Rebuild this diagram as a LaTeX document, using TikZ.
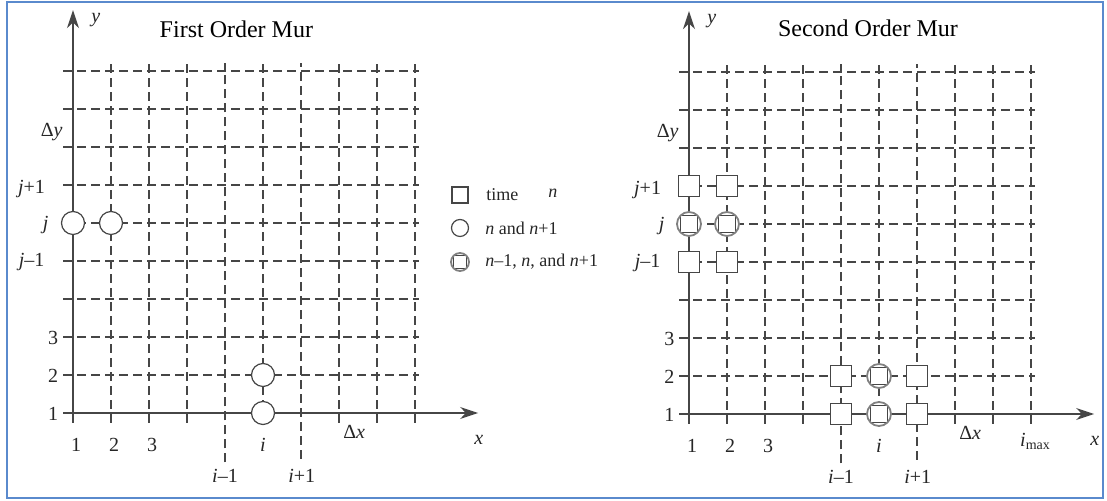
\documentclass[tikz,border=0pt]{standalone}
\usepackage{fontspec}
\setmainfont{Liberation Serif}
\usetikzlibrary{arrows.meta,calc}

\definecolor{murgray}{RGB}{70,70,70}
\definecolor{murblue}{RGB}{90,138,205}

\tikzset{
  gridline/.style={dash pattern=on 4.5pt off 2.5pt, murgray, line width=0.55pt},
  axisline/.style={murgray, line width=0.7pt, -{Stealth[length=9pt,width=6pt]}},
  lab/.style={text=black!85, font=\fontsize{10}{12}\selectfont, inner sep=0pt},
  title/.style={text=black, font=\fontsize{12}{14}\selectfont, inner sep=0pt},
  legtext/.style={text=black!85, font=\fontsize{9}{11}\selectfont, inner sep=0pt, anchor=west},
  cpt/.style={circle, draw=murgray, fill=white, minimum size=11.5pt, inner sep=0pt, line width=0.6pt},
  spt/.style={rectangle, draw=murgray, fill=white, minimum size=10.5pt, inner sep=0pt, line width=0.6pt},
  cspt/.style={circle, draw=gray, fill=white, minimum size=12pt, inner sep=0pt, line width=0.9pt,
    path picture={\draw[murgray, line width=0.5pt]
      ($(path picture bounding box.center)!0.7!(path picture bounding box.south west)$) rectangle
      ($(path picture bounding box.center)!0.7!(path picture bounding box.north east)$);}},
}

% grille d'un panneau (unite = une maille)
\newcommand{\murgrid}{%
  % Grille
  \foreach \j in {2,...,10}
    \draw[gridline] (0.74,\j) -- (10.1,\j);
  \foreach \i in {2,3,4,6,8,9,10}
    \draw[gridline] (\i,0.74) -- (\i,10.2);
  \draw[gridline] (5,-0.3) -- (5,10.2);
  \draw[gridline] (7,-0.2) -- (7,10.2);
  % Axes
  \draw[axisline] (0.74,1) -- (11.66,1);
  \draw[axisline] (1,0.74) -- (1,11.6);
  \node[lab] (xlab) at (11.68,0.29) {\textit{x}};
  \node[lab] (ylab) at (1.6,11.34) {\textit{y}};
  % Graduations
  \node[lab] (dy) at (0.44,8.39) {Δ\textit{y}};
  \node[lab] (jp) at (-0.09,6.89) {\textit{j}+1};
  \node[lab] (jj) at (0.28,5.96) {\textit{j}};
  \node[lab] (jm) at (-0.09,4.97) {\textit{j}–1};
  \foreach \k in {1,2,3} {
    \node[lab] (left\k) at (0.48,\k-0.03) {\k};
    \node[lab] (bot\k) at (\k+0.08,0.15) {\k};
  }
  \node[lab] (ii) at (6,0.16) {\textit{i}};
  \node[lab] (dx) at (8.4,0.5) {Δ\textit{x}};
  \node[lab] (im) at (5,-0.65) {\textit{i}–1};
  \node[lab] (ip) at (7.02,-0.66) {\textit{i}+1};
}

\begin{document}
\begin{tikzpicture}

\useasboundingbox (0pt,0pt) rectangle (553.5pt,250.5pt);

% Cadre
\draw[murblue, line width=1.2pt] (3.5pt,1.5pt) rectangle (551.5pt,249.5pt);

% Premier ordre
\begin{scope}[shift={(17.5pt,25pt)}, x=19pt, y=19pt, name prefix=L-]
  \murgrid
  \node[title] (title) at (5.3,11.1) {First Order Mur};
  \node[cpt] (p16) at (1,6) {};
  \node[cpt] (p26) at (2,6) {};
  \node[cpt] (p62) at (6,2) {};
  \node[cpt] (p61) at (6,1) {};
\end{scope}

% Second ordre
\begin{scope}[shift={(325.5pt,24.5pt)}, x=19pt, y=19pt, name prefix=R-]
  \murgrid
  \node[title] (title) at (5.71,11.16) {Second Order Mur};
  \node[lab] (imax) at (10.12,0.29) {\textit{i}\textsubscript{max}};
  \foreach \i/\j in {1/7,2/7,1/5,2/5,5/2,7/2,5/1,7/1}
    \node[spt] (s\i\j) at (\i,\j) {};
  \foreach \i/\j in {1/6,2/6,6/2,6/1}
    \node[cspt] (c\i\j) at (\i,\j) {};
\end{scope}

% Legende
\node[spt, minimum size=8pt] (legs) at (230pt,153pt) {};
\node[cpt, minimum size=8.5pt] (legc) at (230pt,136.5pt) {};
\node[cspt, minimum size=9pt] (legcs) at (230pt,119.5pt) {};
\node[legtext] (legst) at (243pt,153pt) {time};
\node[legtext] (legsn) at (274pt,154pt) {\textit{n}};
\node[legtext] (legct) at (242.5pt,136.5pt) {\textit{n} and \textit{n}+1};
\node[legtext] (legcst) at (242.5pt,119.5pt) {\textit{n}–1, \textit{n}, and \textit{n}+1};

\end{tikzpicture}
\end{document}
